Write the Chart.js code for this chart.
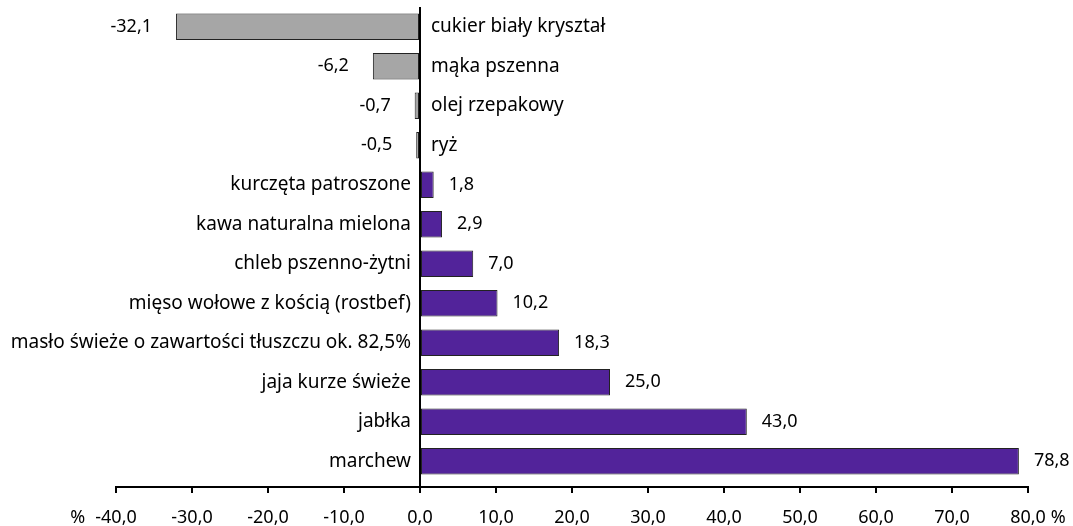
<!DOCTYPE html>
<html>
<head>
<meta charset="utf-8">
<script src="https://cdn.jsdelivr.net/npm/chart.js@4/dist/chart.umd.min.js"></script>
<style>
  html, body { margin: 0; padding: 0; background: #fff; }
  #wrap { width: 1073px; height: 526px; position: relative; }
</style>
</head>
<body>
<div id="wrap"><canvas id="chart"></canvas></div>
<script>
// product names, top to bottom
const categories = [
  "cukier biały kryształ",
  "mąka pszenna",
  "olej rzepakowy",
  "ryż",
  "kurczęta patroszone",
  "kawa naturalna mielona",
  "chleb pszenno-żytni",
  "mięso wołowe z kością (rostbef)",
  "masło świeże o zawartości tłuszczu ok. 82,5%",
  "jaja kurze świeże",
  "jabłka",
  "marchew"
]

// price change in %
const changes = [-32.1, -6.2, -0.7, -0.5, 1.8, 2.9, 7.0, 10.2, 18.3, 25.0, 43.0, 78.8]

const xTicks = ["-40,0", "-30,0", "-20,0", "-10,0", "0,0", "10,0", "20,0", "30,0", "40,0", "50,0", "60,0", "70,0", "80,0"]

const FONT = "Noto Sans"
const NAME_SIZE = 19
const NUM_SIZE = 18
const TICK_PAD = 14
const purple = "#52239a"
const grey = "#a6a6a6"

const fmt = (v) => v.toFixed(1).replace(".", ",")

// category names sit on the zero line, values at the bar ends
const barLabels = {
  id: "barLabels",
  afterDatasetsDraw(chart) {
    const ctx = chart.ctx
    const x = chart.scales.x
    const zero = x.getPixelForValue(0)
    const meta = chart.getDatasetMeta(0)
    ctx.save()
    ctx.fillStyle = "#000"
    ctx.textBaseline = "middle"
    meta.data.forEach((bar, i) => {
      const v = changes[i]
      if (v >= 0) {
        ctx.font = NAME_SIZE + "px '" + FONT + "'"
        ctx.textAlign = "right"
        ctx.fillText(categories[i], zero - 9, bar.y)
        ctx.font = NUM_SIZE + "px '" + FONT + "'"
        ctx.textAlign = "left"
        ctx.fillText(fmt(v), bar.x + 15, bar.y)
      } else {
        ctx.font = NAME_SIZE + "px '" + FONT + "'"
        ctx.textAlign = "left"
        ctx.fillText(categories[i], zero + 11, bar.y)
        ctx.font = NUM_SIZE + "px '" + FONT + "'"
        ctx.textAlign = "right"
        ctx.fillText(fmt(v), bar.x - 24, bar.y)
      }
    })

    // the % signs next to the first and last tick label
    ctx.font = NUM_SIZE + "px '" + FONT + "'"
    const ty = x.top + 6 + TICK_PAD + NUM_SIZE * 0.6
    const first = x.getPixelForValue(-40)
    const last = x.getPixelForValue(80)
    ctx.textAlign = "right"
    ctx.fillText("%", first - ctx.measureText(xTicks[0]).width / 2 - 10, ty)
    ctx.textAlign = "left"
    ctx.fillText("%", last + ctx.measureText(xTicks[xTicks.length - 1]).width / 2 + 5, ty)
    ctx.restore()
  }
}

new Chart(document.getElementById("chart"), {
  type: "bar",
  data: {
    labels: categories,
    datasets: [{
      data: changes,
      backgroundColor: (c) => (changes[c.dataIndex] < 0 ? grey : purple),
      borderColor: "#222",
      borderWidth: 1,
      borderSkipped: false,
      categoryPercentage: 1,
      barPercentage: 0.67
    }]
  },
  options: {
    indexAxis: "y",
    responsive: true,
    maintainAspectRatio: false,
    animation: false,
    layout: {
      padding: { left: 116, right: 45, top: 7, bottom: 0 }
    },
    plugins: {
      legend: { display: false },
      tooltip: { enabled: false }
    },
    scales: {
      x: {
        min: -40,
        max: 80,
        afterFit: (s) => { s.height = 39 },
        ticks: {
          stepSize: 10,
          color: "#000",
          padding: TICK_PAD,
          maxRotation: 0,
          font: { family: FONT, size: NUM_SIZE },
          callback: (value, i) => xTicks[i]
        },
        grid: {
          color: (c) => (c.tick && c.tick.value === 0 ? "#000" : "rgba(0,0,0,0)"),
          lineWidth: 2,
          tickColor: "#000",
          tickLength: 6,
          tickWidth: 2
        },
        border: { display: true, color: "#000", width: 2 }
      },
      y: {
        display: false,
        // leave a little gap between the last bar and the axis
        afterBuildTicks: (s) => { s._valueRange += 0.15 }
      }
    }
  },
  plugins: [barLabels]
})
</script>
</body>
</html>
